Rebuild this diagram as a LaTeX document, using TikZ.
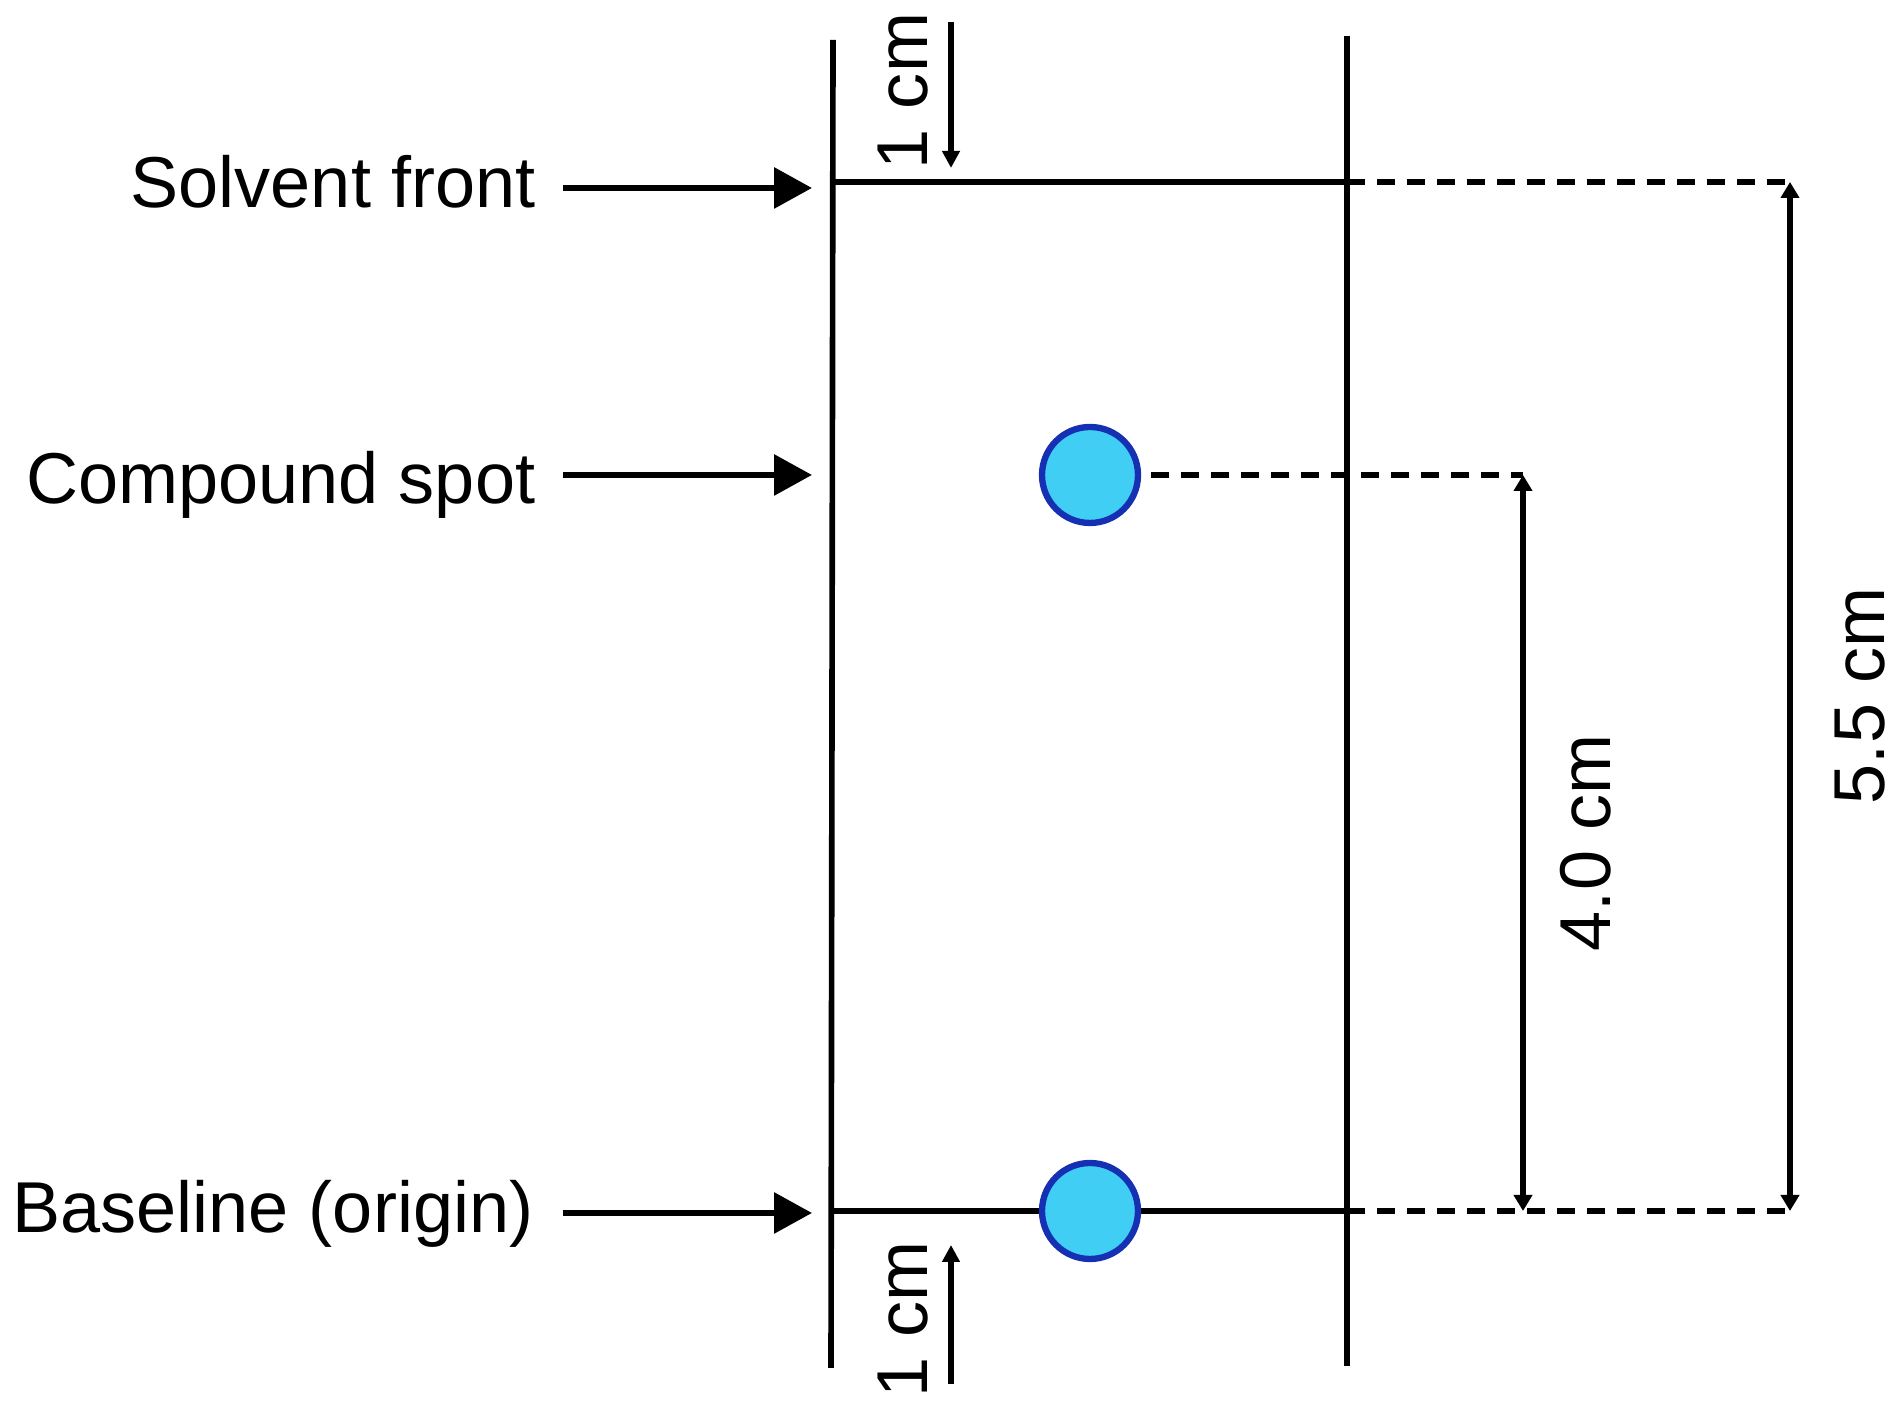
\documentclass[tikz,border=0pt]{standalone}
\usepackage{fontspec}
\setmainfont{Liberation Sans}
\usetikzlibrary{arrows.meta}
\definecolor{spotfill}{RGB}{64,206,245}
\definecolor{spotdraw}{RGB}{22,48,180}
\tikzset{
  plate/.style={line width=1.6pt, black},
  lbl/.style={font=\fontsize{20.5}{24}\selectfont, inner sep=0pt},
  pointer/.style={line width=1.8pt, -{Triangle[length=0.38cm,width=0.40cm]}},
  dimline/.style={line width=1.8pt, {Triangle[length=0.16cm,width=0.18cm]}-{Triangle[length=0.16cm,width=0.18cm]}},
  onecm/.style={line width=1.6pt, -{Triangle[length=0.17cm,width=0.17cm]}},
  guide/.style={line width=1.6pt, dash pattern=on 0.18cm off 0.12cm},
  spot/.style={circle, minimum size=0.96cm, inner sep=0pt, fill=spotfill, draw=spotdraw, line width=1.8pt},
}
\begin{document}
\begin{tikzpicture}
\useasboundingbox (0,0) rectangle (18.99,14.01);
% plate edges
\coordinate (LT) at (8.33,13.61);
\coordinate (LB) at (8.31,0.33);
\coordinate (RT) at (13.47,13.65);
\coordinate (RB) at (13.47,0.35);
\draw[plate] (LT) -- (LB);
\draw[plate] (RT) -- (RB);
% solvent front and baseline
\coordinate (SFL) at (8.33,12.19);
\coordinate (SFR) at (13.47,12.19);
\coordinate (SFD) at (17.90,12.19);
\coordinate (BLL) at (8.32,1.90);
\coordinate (BLR) at (13.47,1.90);
\coordinate (BLA) at (15.23,1.90);
\coordinate (BLD) at (17.90,1.90);
\draw[line width=1.9pt] (SFL) -- (SFR);
\draw[line width=1.9pt] (BLL) -- (BLR);
\draw[guide] (SFR) -- (SFD);
\draw[guide] (BLR) -- (BLD);
% spots
\node[spot] (s1) at (10.90,9.26) {};
\node[spot] (s0) at (10.90,1.90) {};
\coordinate (SPD) at (15.23,9.26);
\draw[guide] (s1.east) ++(0.10,0) -- (SPD);
% dimension arrows
\draw[dimline] (SPD) -- (BLA);
\draw[dimline] (SFD) -- (BLD);
\node[lbl, rotate=90] (d40) at (15.86,5.58) {4.0 cm};
\node[lbl, rotate=90] (d55) at (18.60,7.05) {5.5 cm};
% 1 cm markers
\coordinate (T1a) at (9.51,13.79);
\coordinate (T1b) at (9.51,12.33);
\draw[onecm] (T1a) -- (T1b);
\node[lbl, rotate=90] (t1) at (9.03,13.10) {1 cm};
\coordinate (B1a) at (9.51,0.17);
\coordinate (B1b) at (9.51,1.56);
\draw[onecm] (B1a) -- (B1b);
\node[lbl, rotate=90] (b1) at (9.03,0.82) {1 cm};
% left labels
\node[lbl, anchor=base east] (sf) at (5.36,11.93) {Solvent front};
\node[lbl, anchor=base east] (cs) at (5.36,8.97) {Compound spot};
\node[lbl, anchor=base east] (bl) at (5.34,1.68) {Baseline (origin)};
\coordinate (sfa) at (5.63,12.13);
\coordinate (sfb) at (8.12,12.13);
\coordinate (csa) at (5.63,9.26);
\coordinate (csb) at (8.12,9.26);
\coordinate (bla) at (5.63,1.88);
\coordinate (blb) at (8.12,1.88);
\draw[pointer] (sfa) -- (sfb);
\draw[pointer] (csa) -- (csb);
\draw[pointer] (bla) -- (blb);
\end{tikzpicture}
\end{document}
